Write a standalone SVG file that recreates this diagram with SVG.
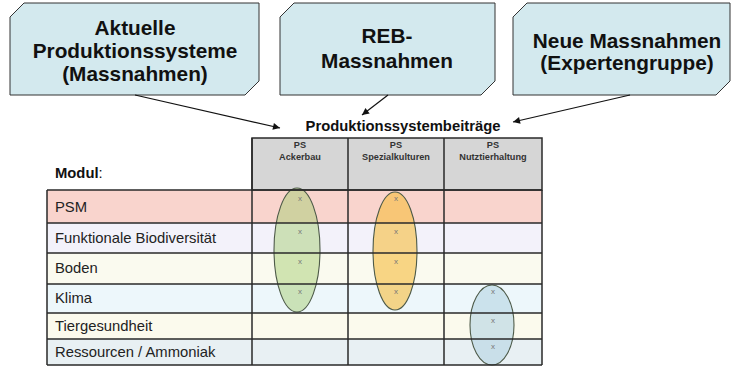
<svg xmlns="http://www.w3.org/2000/svg" width="735" height="367" viewBox="0 0 735 367">
<defs>
<style>
.box{fill:#d3e9ee;stroke:#333;stroke-width:1}
.bt{font-family:"Liberation Sans",Arial,sans-serif;font-weight:bold;font-size:20.8px;fill:#111;text-anchor:middle}
.conn{stroke:#111;stroke-width:1.2;fill:none;marker-end:url(#ah)}
.rl{font-family:"Liberation Sans",Arial,sans-serif;font-size:14.8px;fill:#222}
.hd{font-family:"Liberation Sans",Arial,sans-serif;font-weight:bold;font-size:9.2px;fill:#333;text-anchor:middle}
.grid{stroke:#2a2a2a;stroke-width:1.5;fill:none}
.x{font-family:"Liberation Sans",Arial,sans-serif;font-size:8px;fill:#777;text-anchor:middle}
.el{stroke:#4d5a48;stroke-width:1.1}
</style>
<marker id="ah" viewBox="0 0 10 10" refX="10" refY="5" markerWidth="10" markerHeight="7" orient="auto" markerUnits="userSpaceOnUse">
<path d="M0,0 L10,5 L0,10 z" fill="#111"/>
</marker>
</defs>
<rect width="735" height="367" fill="#fff"/>

<g id="node-aktuelle">
<polygon class="box" points="10,17 24,3 259,3 259,81 245,95 10,95"/>
<text class="bt" x="135" y="35">Aktuelle</text>
<text class="bt" x="135" y="58">Produktionssysteme</text>
<text class="bt" x="135" y="81">(Massnahmen)</text>
</g>
<g id="node-reb">
<polygon class="box" points="280,17 294,3 495,3 495,81 481,95 280,95"/>
<text class="bt" x="387" y="43">REB-</text>
<text class="bt" x="387" y="68">Massnahmen</text>
</g>
<g id="node-neue">
<polygon class="box" points="513,17 527,3 730,3 730,81 716,95 513,95"/>
<text class="bt" x="627" y="48">Neue Massnahmen</text>
<text class="bt" x="627" y="70">(Expertengruppe)</text>
</g>

<g id="connectors">
<line class="conn" x1="135" y1="95" x2="280" y2="128"/>
<line class="conn" x1="388" y1="95" x2="362" y2="115"/>
<line class="conn" x1="630" y1="95" x2="513" y2="122"/>
</g>

<g id="table">
<text x="403" y="131" font-family="Liberation Sans,Arial,sans-serif" font-weight="bold" font-size="14.8" fill="#111" text-anchor="middle">Produktionssystembeiträge</text>
<rect x="252" y="138" width="290" height="52" fill="#d6d6d6"/>
<text class="hd" x="300" y="148">PS</text><text class="hd" x="300" y="160">Ackerbau</text>
<text class="hd" x="396" y="148">PS</text><text class="hd" x="396" y="160">Spezialkulturen</text>
<text class="hd" x="493" y="148">PS</text><text class="hd" x="493" y="160">Nutztierhaltung</text>
<text x="55" y="178" font-family="Liberation Sans,Arial,sans-serif" font-size="14.8" fill="#111"><tspan font-weight="bold">Modul</tspan>:</text>

<rect x="47" y="190" width="495" height="33" fill="#f9d4cd"/>
<rect x="47" y="223" width="495" height="30" fill="#f3f2fa"/>
<rect x="47" y="253" width="495" height="31" fill="#fafaef"/>
<rect x="47" y="284" width="495" height="29" fill="#edf7fb"/>
<rect x="47" y="313" width="495" height="26" fill="#fbfaed"/>
<rect x="47" y="339" width="495" height="26" fill="#e8f0f3"/>

<text class="rl" x="55" y="212">PSM</text>
<text class="rl" x="55" y="243">Funktionale Biodiversität</text>
<text class="rl" x="55" y="273">Boden</text>
<text class="rl" x="55" y="303">Klima</text>
<text class="rl" x="55" y="331">Tiergesundheit</text>
<text class="rl" x="55" y="357">Ressourcen / Ammoniak</text>

<ellipse class="el" cx="297" cy="250" rx="23" ry="62" fill="rgb(168,206,118)" fill-opacity="0.5"/>
<ellipse class="el" cx="395" cy="251" rx="22" ry="59" fill="rgb(247,188,60)" fill-opacity="0.6"/>
<ellipse class="el" cx="492" cy="325" rx="22" ry="40" fill="rgb(180,212,226)" fill-opacity="0.6"/>

<rect class="grid" x="252" y="138" width="290" height="52" stroke="#555" stroke-width="1.2"/>
<path class="grid" d="M47,190 H542 M47,223 H542 M47,253 H542 M47,284 H542 M47,313 H542 M47,339 H542 M47,365 H542 M47,190 V365 M542,190 V365"/>
<path class="grid" d="M252,138 V365 M348,138 V365 M444,138 V365" stroke-width="1.2"/>

<text class="x" x="300" y="201">x</text>
<text class="x" x="300" y="234">x</text>
<text class="x" x="300" y="264">x</text>
<text class="x" x="300" y="294">x</text>
<text class="x" x="396" y="201">x</text>
<text class="x" x="396" y="234">x</text>
<text class="x" x="396" y="264">x</text>
<text class="x" x="396" y="294">x</text>
<text class="x" x="493" y="294">x</text>
<text class="x" x="493" y="323">x</text>
<text class="x" x="493" y="349">x</text>
</g>
</svg>
